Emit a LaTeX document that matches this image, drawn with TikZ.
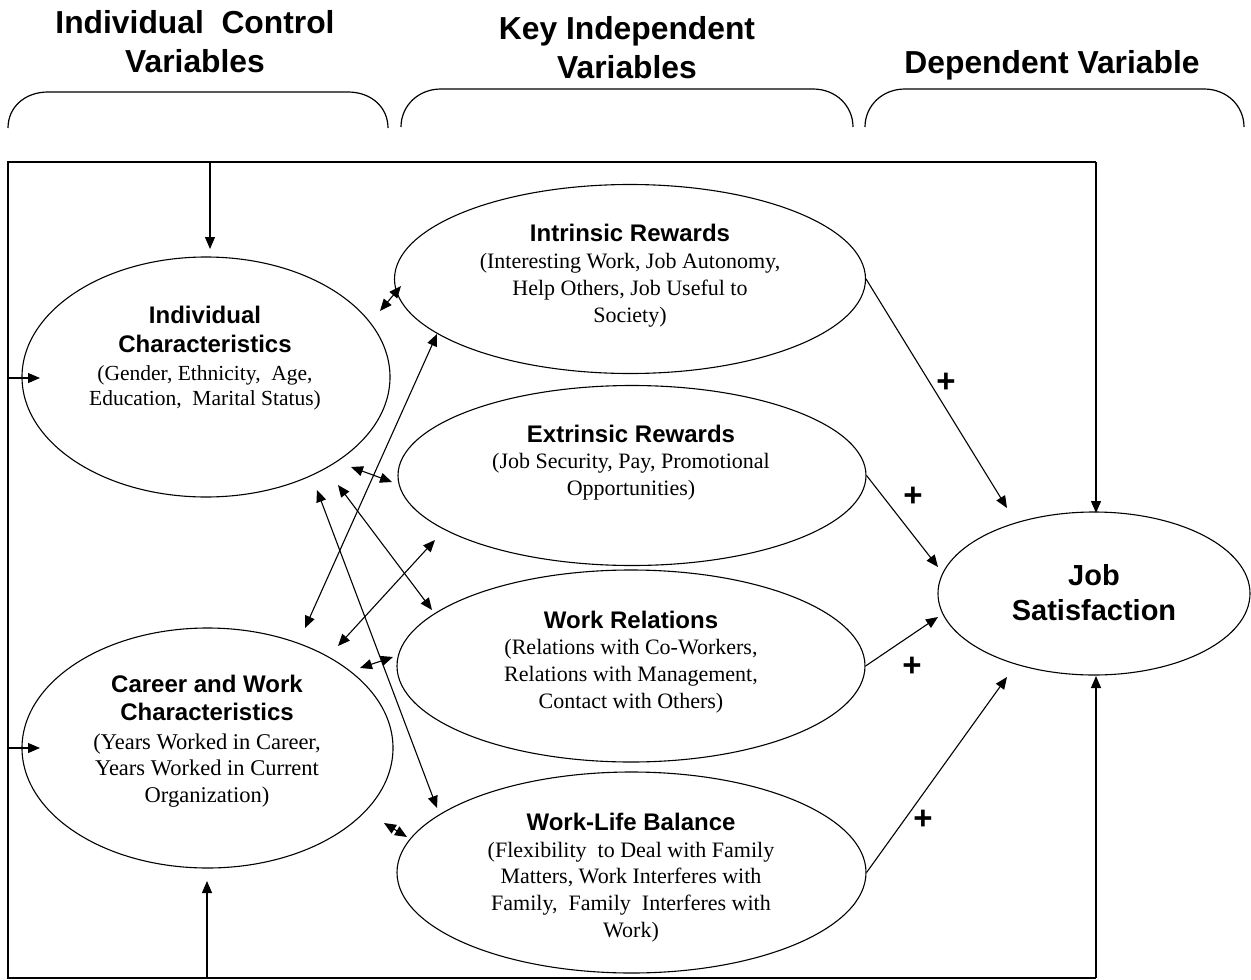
\documentclass[tikz,border=0pt]{standalone}
\usepackage{fontspec}
\setmainfont{Liberation Serif}
\newfontfamily\arialf{Liberation Sans}
\usetikzlibrary{arrows.meta,shapes.geometric}
\tikzset{
 ell/.style={draw, ellipse, line width=1.1pt, inner sep=0pt},
 ttl/.style={anchor=base, align=center, font=\arialf\bfseries\fontsize{24pt}{28.5pt}\selectfont},
 dsc/.style={anchor=base, align=center, font=\fontsize{22pt}{26.6pt}\selectfont},
 hdr/.style={anchor=base, align=center, font=\arialf\bfseries\fontsize{31.8pt}{38.5pt}\selectfont},
 arr/.style={line width=1.1pt, -{Triangle[length=12pt,width=10pt]}},
 darr/.style={line width=1.1pt, {Triangle[length=12pt,width=10pt]}-{Triangle[length=12pt,width=10pt]}},
 brace/.style={line width=1.2pt},
 frame/.style={line width=1.3pt},
 plus/.style={font=\arialf\bfseries\fontsize{33pt}{36pt}\selectfont},
}
\begin{document}
\begin{tikzpicture}[x=1pt,y=-1pt]
\useasboundingbox (0,0) rectangle (1251,980);

% headers (base anchor = baseline of the last line)
\node[hdr] (h1) at (195,72) {Individual\ \ Control\\Variables};
\node[hdr] (h2) at (627,78) {Key Independent\\Variables};
\node[hdr] (h3) at (1052,73) {Dependent Variable};

% braces
\draw[brace] (8,128) .. controls (8,107) and (25,92) .. (48,92) -- (348,92) .. controls (371,92) and (388,107) .. (388,128);
\draw[brace] (401,127) .. controls (401,106) and (418,89) .. (441,89) -- (813,89) .. controls (836,89) and (853,106) .. (853,127);
\draw[brace] (865,127) .. controls (865,106) and (882,89) .. (905,89) -- (1204,89) .. controls (1227,89) and (1244,106) .. (1244,127);

% frame (its right side is formed by the two arrows into Job Satisfaction)
\coordinate (fTR) at (1096,162);
\coordinate (fTL) at (8,162);
\coordinate (fBL) at (8,978);
\coordinate (fBR) at (1096,978);
\draw[frame] (fTR) -- (fTL) -- (fBL) -- (fBR);

% ellipses
\node[ell, minimum width=368pt, minimum height=240pt] (ind) at (206,377) {};
\node[ell, minimum width=371pt, minimum height=240pt] (car) at (207.5,748) {};
\node[ell, minimum width=471pt, minimum height=189pt] (intr) at (630,279) {};
\node[ell, minimum width=468pt, minimum height=180pt] (ext) at (632,475.5) {};
\node[ell, minimum width=468pt, minimum height=192pt] (wr) at (631,666) {};
\node[ell, minimum width=469pt, minimum height=201pt] (wlb) at (631.5,872.5) {};
\node[ell, minimum width=312pt, minimum height=163pt] (js) at (1094,593.5) {};

% texts
\node[ttl] (indT) at (205,352) {Individual\\Characteristics};
\node[dsc, font=\fontsize{21.5pt}{25pt}\selectfont] (indD) at (205,405) {(Gender, Ethnicity,\ \ Age,\\Education,\ \ Marital Status)};
\node[ttl, font=\arialf\bfseries\fontsize{24pt}{28pt}\selectfont] (carT) at (207,720) {Career and Work\\Characteristics};
\node[dsc, font=\fontsize{22.5pt}{26.5pt}\selectfont] (carD) at (207,802) {(Years Worked in Career,\\Years Worked in Current\\Organization)};
\node[ttl] (intrT) at (630,241) {Intrinsic Rewards};
\node[dsc] (intrD) at (630,322) {(Interesting Work, Job Autonomy,\\Help Others, Job Useful to\\Society)};
\node[ttl] (extT) at (631,442) {Extrinsic Rewards};
\node[dsc] (extD) at (631,495) {(Job Security, Pay, Promotional\\Opportunities)};
\node[ttl] (wrT) at (631,628) {Work Relations};
\node[dsc] (wrD) at (631,708) {(Relations\ with Co-Workers,\\Relations\ with Management,\\Contact with\ Others)};
\node[ttl] (wlbT) at (631,830) {Work-Life Balance};
\node[dsc] (wlbD) at (631,937) {(Flexibility\ \ to Deal with Family\\Matters, Work Interferes with\\Family,\ \ Family\ \ Interferes with\\Work)};
\node[ttl, font=\arialf\bfseries\fontsize{29pt}{35pt}\selectfont] (jsT) at (1094,620) {Job\\Satisfaction};

% arrows from frame
\coordinate (ft) at (210,162);
\coordinate (fl1) at (8,378);
\coordinate (fl2) at (8,748);
\coordinate (fb) at (207,978);
\coordinate (ftE) at (210,249);
\coordinate (fl1E) at (40,378);
\coordinate (fl2E) at (40,748);
\coordinate (fbE) at (207,881);
\coordinate (fr1E) at (1096,513);
\coordinate (fr2E) at (1096,676);
\draw[arr] (ft) -- (ftE);
\draw[arr] (fl1) -- (fl1E);
\draw[arr] (fl2) -- (fl2E);
\draw[arr] (fb) -- (fbE);
\draw[arr, line width=1.3pt] (fTR) -- (fr1E);
\draw[arr, line width=1.3pt] (fBR) -- (fr2E);

% double arrows between control and key variables
\coordinate (a1s) at (380,311); \coordinate (a1e) at (401,286);
\coordinate (a2s) at (351,467); \coordinate (a2e) at (392,482);
\coordinate (a3s) at (305,628); \coordinate (a3e) at (437,334);
\coordinate (a4s) at (317,490); \coordinate (a4e) at (437,808);
\coordinate (a5s) at (338,485); \coordinate (a5e) at (432,610);
\coordinate (a6s) at (338,646); \coordinate (a6e) at (435,540);
\coordinate (a7s) at (360,668); \coordinate (a7e) at (393,657);
\coordinate (a8s) at (384,823); \coordinate (a8e) at (407,837);
\draw[darr] (a1s) -- (a1e);
\draw[darr] (a2s) -- (a2e);
\draw[darr] (a3s) -- (a3e);
\draw[darr] (a4s) -- (a4e);
\draw[darr] (a5s) -- (a5e);
\draw[darr] (a6s) -- (a6e);
\draw[darr] (a7s) -- (a7e);
\draw[darr] (a8s) -- (a8e);

% arrows to job satisfaction
\coordinate (j1) at (1007,508);
\coordinate (j2) at (938,567);
\coordinate (j3) at (938,617);
\coordinate (j4) at (1007,677);
\draw[arr] (intr.east) -- (j1);
\draw[arr] (ext.east) -- (j2);
\draw[arr] (wr.east) -- (j3);
\draw[arr] (wlb.east) -- (j4);

% plus signs
\node[plus] (p1) at (946,383) {+};
\node[plus] (p2) at (913,497) {+};
\node[plus] (p3) at (912,667) {+};
\node[plus] (p4) at (923,820) {+};
\end{tikzpicture}
\end{document}
